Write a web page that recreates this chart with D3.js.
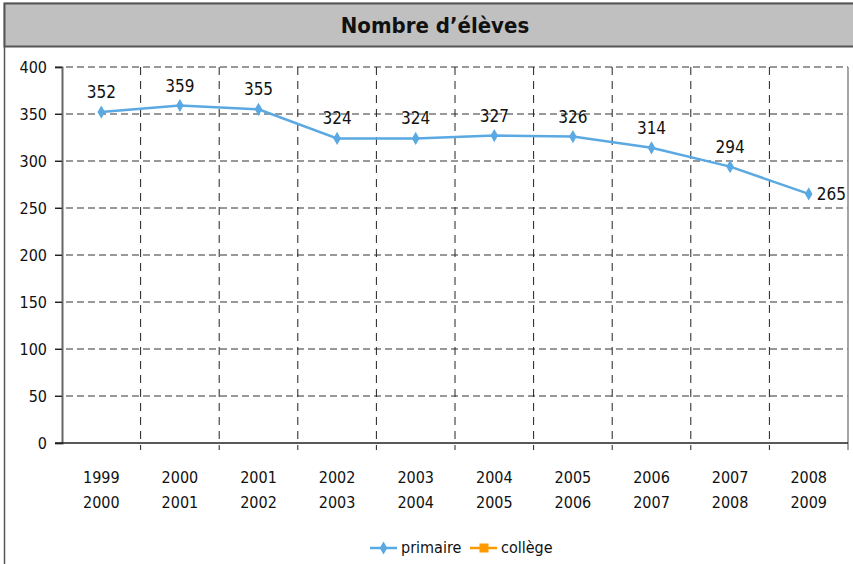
<!DOCTYPE html>
<html>
<head>
<meta charset="utf-8">
<script src="https://cdn.jsdelivr.net/npm/d3@7"></script>
<style>
body { margin: 0; background: #fff; }
text { font-family: "Liberation Sans Narrow", "DejaVu Sans Condensed", sans-serif; fill: #111; }
</style>
</head>
<body>
<script>
var w = 853;
var h = 564;

var years = ["1999\n2000", "2000\n2001", "2001\n2002", "2002\n2003", "2003\n2004",
             "2004\n2005", "2005\n2006", "2006\n2007", "2007\n2008", "2008\n2009"];
var primaire = [352, 359, 355, 324, 324, 327, 326, 314, 294, 265];
var yTicks = [0, 50, 100, 150, 200, 250, 300, 350, 400];
var seriesNames = ["primaire", "collège"];
var seriesColors = ["#5aa9e3", "#ff9900"];

var pLeft = 62, pRight = 848, pTop = 67, pBottom = 443;

var svg = d3.select("body").append("svg")
  .attr("width", w).attr("height", h);

// chart frame + title box
svg.append("rect").attr("x", 4.5).attr("y", 3.5).attr("width", 860).attr("height", 600)
  .attr("fill", "none").attr("stroke", "#555").attr("stroke-width", 1.5);
svg.append("rect").attr("x", 4.5).attr("y", 3.5).attr("width", 860).attr("height", 43)
  .attr("fill", "#c0c0c0").attr("stroke", "#555").attr("stroke-width", 2);
svg.append("text").attr("x", 435).attr("y", 33).attr("text-anchor", "middle")
  .style("font-size", "22px").style("font-weight", "bold").text("Nombre d’élèves");

var x = d3.scaleBand().domain(years).range([pLeft, pRight]);
var y = d3.scaleLinear().domain([0, 400]).range([pBottom, pTop]);

// horizontal grid
svg.selectAll(".hg").data(yTicks.slice(1)).enter().append("line")
  .attr("x1", pLeft - 7).attr("x2", pRight)
  .attr("y1", function(d){ return y(d); }).attr("y2", function(d){ return y(d); })
  .attr("stroke", "#333").attr("stroke-dasharray", "7,4").attr("stroke-width", 1);

// vertical grid at category boundaries
svg.selectAll(".vg").data(years.slice(1)).enter().append("line")
  .attr("x1", function(d){ return x(d); }).attr("x2", function(d){ return x(d); })
  .attr("y1", pTop).attr("y2", pBottom + 7)
  .attr("stroke", "#222").attr("stroke-dasharray", "8,6").attr("stroke-width", 1);

svg.append("line").attr("x1", pRight).attr("x2", pRight).attr("y1", pTop).attr("y2", pBottom + 7)
  .attr("stroke", "#888").attr("stroke-width", 1.5);

// axes
var yAxis = svg.append("g").attr("transform", "translate(" + pLeft + ",0)")
  .call(d3.axisLeft(y).tickValues(yTicks).tickSize(7).tickPadding(8));
yAxis.select(".domain").attr("stroke", "#666").attr("stroke-width", 2);
yAxis.selectAll("text").style("font-size", "16px").style("font-family", "Liberation Sans Narrow, DejaVu Sans Condensed, sans-serif");
yAxis.selectAll(".tick line").attr("stroke", "#222");

svg.append("line").attr("x1", pLeft - 7).attr("x2", pRight).attr("y1", pBottom).attr("y2", pBottom)
  .attr("stroke", "#222").attr("stroke-width", 1.5);

svg.selectAll(".xl").data(years).enter().append("text")
  .attr("text-anchor", "middle").style("font-size", "16px")
  .attr("x", function(d){ return x(d) + x.bandwidth() / 2; })
  .attr("y", 483)
  .each(function(d){
    var t = d3.select(this);
    d.split("\n").forEach(function(s, i){
      t.append("tspan").attr("x", t.attr("x")).attr("dy", i ? 25 : 0).text(s);
    });
  });

// line
var pts = years.map(function(d, i){ return [x(d) + x.bandwidth() / 2, y(primaire[i])]; });
svg.append("path").datum(pts).attr("d", d3.line())
  .attr("fill", "none").attr("stroke", seriesColors[0]).attr("stroke-width", 2.5);

var diamond = d3.symbol().type(d3.symbolDiamond).size(50);
svg.selectAll(".pt").data(pts).enter().append("path")
  .attr("d", diamond)
  .attr("transform", function(d){ return "translate(" + d[0] + "," + d[1] + ")"; })
  .attr("fill", seriesColors[0]);

svg.selectAll(".lbl").data(primaire).enter().append("text")
  .style("font-size", "17px")
  .attr("text-anchor", function(d, i){ return i === primaire.length - 1 ? "start" : "middle"; })
  .attr("x", function(d, i){ return i === primaire.length - 1 ? pts[i][0] + 8 : pts[i][0]; })
  .attr("y", function(d, i){ return i === primaire.length - 1 ? pts[i][1] + 6 : pts[i][1] - 14; })
  .text(function(d){ return d; });

// legend
var lg = svg.append("g").attr("transform", "translate(370,548)");
lg.append("line").attr("x1", 0).attr("x2", 27).attr("stroke", seriesColors[0]).attr("stroke-width", 2.5);
lg.append("path").attr("d", diamond).attr("transform", "translate(13.5,0)").attr("fill", seriesColors[0]);
lg.append("text").attr("x", 31).attr("y", 5).style("font-size", "16px").text(seriesNames[0]);
lg.append("line").attr("x1", 100).attr("x2", 127).attr("stroke", seriesColors[1]).attr("stroke-width", 2.5);
lg.append("rect").attr("x", 109.5).attr("y", -4.5).attr("width", 9).attr("height", 9).attr("fill", seriesColors[1]);
lg.append("text").attr("x", 131).attr("y", 5).style("font-size", "16px").text(seriesNames[1]);
</script>
</body>
</html>
